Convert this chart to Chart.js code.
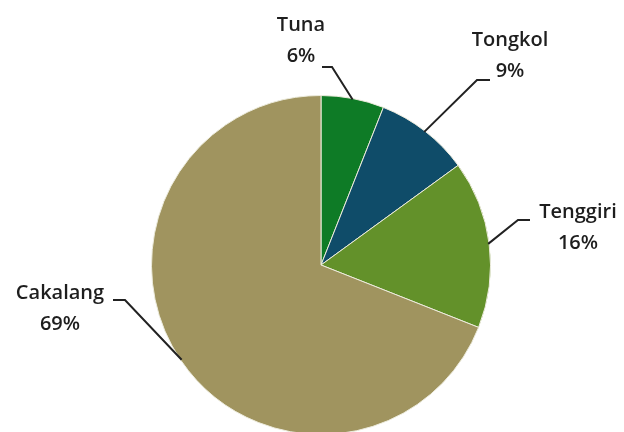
<!DOCTYPE html>
<html>
<head>
<meta charset="utf-8">
<script src="https://cdn.jsdelivr.net/npm/chart.js@4"></script>
<style>
  html, body { margin: 0; padding: 0; background: #fff; overflow: hidden; }
  #wrap { position: relative; width: 624px; height: 440px; }
</style>
</head>
<body>
<div id="wrap"><canvas id="pieChart"></canvas></div>
<script>
// data
const jenisIkan = ["Tuna", "Tongkol", "Tenggiri", "Cakalang"];
const persen = [6, 9, 16, 69];
const warna = ["#0E7B26", "#0F4C69", "#63912A", "#A0945F"];

// posisi label (siku garis, ujung garis, pusat teks)
const labelPos = [
  { elbow: [332, 67], end: [322, 67], text: [301, 25], align: "center" },
  { elbow: [477, 80], end: [490, 80], text: [510, 40], align: "center" },
  { elbow: [518, 220], end: [530, 220], text: [578, 212], align: "center" },
  { elbow: [125, 300], end: [113, 300], text: [60, 293], align: "center" },
];

// plugin untuk label dan garis penunjuk
const leaderLabels = {
  id: "leaderLabels",
  afterDraw(chart) {
    const ctx = chart.ctx;
    const arcs = chart.getDatasetMeta(0).data;
    ctx.save();
    arcs.forEach((arc, i) => {
      const p = arc.getProps(["x", "y", "startAngle", "endAngle", "outerRadius"], true);
      const mid = (p.startAngle + p.endAngle) / 2;
      const ex = p.x + Math.cos(mid) * (p.outerRadius - 1);
      const ey = p.y + Math.sin(mid) * (p.outerRadius - 1);
      const lp = labelPos[i];
      ctx.strokeStyle = "#222";
      ctx.lineWidth = 2;
      ctx.beginPath();
      ctx.moveTo(ex, ey);
      ctx.lineTo(lp.elbow[0], lp.elbow[1]);
      ctx.lineTo(lp.end[0], lp.end[1]);
      ctx.stroke();

      ctx.fillStyle = "#1e1e1e";
      ctx.font = "600 20px 'Open Sans'";
      ctx.textAlign = lp.align;
      ctx.textBaseline = "middle";
      ctx.fillText(jenisIkan[i], lp.text[0], lp.text[1]);
      ctx.fillText(persen[i] + "%", lp.text[0], lp.text[1] + 31);
    });
    ctx.restore();
  },
};

const config = {
  type: "pie",
  data: {
    labels: jenisIkan,
    datasets: [
      {
        data: persen,
        backgroundColor: warna,
        borderColor: "#ecebdc",
        borderWidth: 1,
      },
    ],
  },
  options: {
    responsive: true,
    maintainAspectRatio: false,
    animation: false,
    layout: {
      padding: { top: 95, bottom: 5, left: 151, right: 133 },
    },
    plugins: {
      legend: { display: false },
      tooltip: { enabled: false },
    },
  },
  plugins: [leaderLabels],
};

const ctx = document.getElementById("pieChart").getContext("2d");
const pieChart = new Chart(ctx, config);
</script>
</body>
</html>
